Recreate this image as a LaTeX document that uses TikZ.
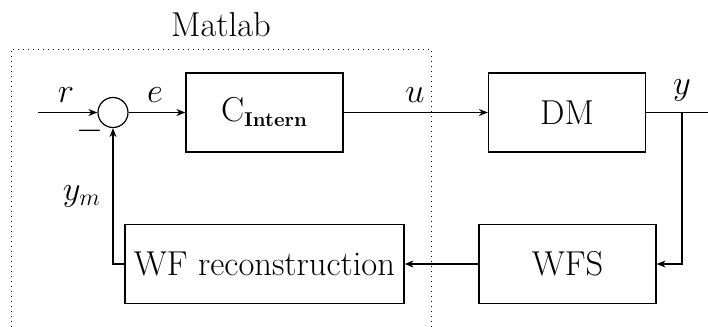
\documentclass[tikz,border=0pt]{standalone}
\usepackage{amsmath}
\usepackage{tikz}
\usetikzlibrary{arrows.meta}

\begin{document}
\begin{tikzpicture}[x=0.5pt, y=-0.5pt, font=\fontsize{17.28}{21}\selectfont, line width=0.6pt,
  block/.style={draw, minimum width=78.5pt, minimum height=39.5pt, inner sep=0pt},
  sumnode/.style={draw, circle, minimum size=15pt, inner sep=0pt},
  sig/.style={-{Stealth[length=4.5pt, width=3.5pt]}}]
  \useasboundingbox (0,0) rectangle (708,327);

  % Matlab region
  \draw[dotted, line width=0.5pt] (11,327) -- (11,49) -- (431,49) -- (431,327);
  \node (matlab) at (221,25) {Matlab};

  % Blocks
  \node[sumnode] (sum) at (113,112.5) {};
  \node[block] (cint) at (264.5,112.5) {$\mathrm{C}_{\hbox{\fontsize{10}{12}\selectfont\bfseries Intern}}$};
  \node[block] (dm) at (567,112.5) {DM};
  \node[block, minimum width=88.5pt] (wfs) at (567.5,264) {WFS};
  \node[block, minimum width=139.5pt] (wfrec) at (264.5,264) {WF reconstruction};

  % Free ends
  \coordinate (rin) at (38,112.5);
  \coordinate (ybr) at (682,112.5);
  \coordinate (yout) at (708,112.5);

  % Signals
  \draw[sig] (rin) -- (sum);
  \draw[sig] (sum) -- (cint);
  \draw[sig] (cint) -- (dm);
  \draw (dm) -- (yout);
  \draw[sig] (ybr) |- (wfs);
  \draw[sig] (wfs) -- (wfrec);
  \draw[sig] (wfrec.west) -| (sum.south);

  % Labels
  \node (lr) at (66,95) {$r$};
  \node (lminus) at (90,131) {$-$};
  \node (le) at (155,95) {$e$};
  \node (lu) at (415,95) {$u$};
  \node (ly) at (682,90) {$y$};
  \node (lym) at (82,196) {$y_m$};
\end{tikzpicture}
\end{document}
